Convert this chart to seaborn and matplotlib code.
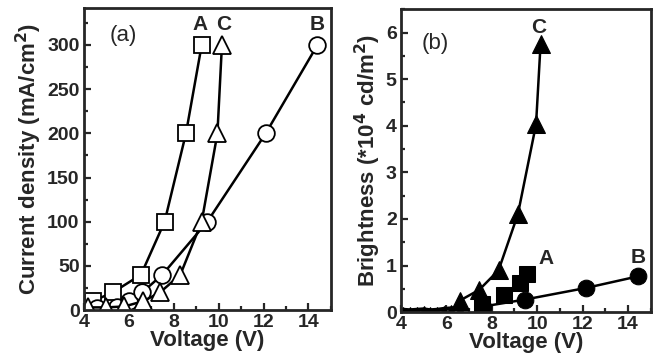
import numpy as np
import pandas as pd
import seaborn as sns
import matplotlib.pyplot as plt
from matplotlib.ticker import MultipleLocator

# panel (a): current density vs voltage
a_volt = [4.4, 5.3, 6.55, 7.6, 8.55, 9.25]
a_curr = [10, 20, 40, 100, 200, 300]
b_volt = [4.6, 5.5, 6.0, 6.6, 7.5, 9.5, 12.1, 14.4]
b_curr = [2, 3, 10, 20, 40, 100, 200, 300]
c_volt = [4.2, 5.0, 5.8, 6.65, 7.4, 8.3, 9.25, 9.95, 10.15]
c_curr = [3, 3, 4, 10, 20, 40, 100, 200, 300]

# panel (b): brightness (x1e4 cd/m2) vs voltage
a_bvolt = [7.55, 8.55, 9.25, 9.55]
a_bright = [0.18, 0.37, 0.62, 0.81]
b_bvolt = [7.6, 9.45, 12.15, 14.45]
b_bright = [0.12, 0.27, 0.52, 0.77]
c_bvolt = [6.6, 7.45, 8.3, 9.15, 9.95, 10.15]
c_bright = [0.25, 0.48, 0.9, 2.1, 4.03, 5.76]
# low-voltage baseline of C (small symbols)
base_volt = [4.1, 4.4, 4.7, 5.0, 5.3, 5.6, 5.9, 6.2, 6.6]
base_bright = [0.05, 0.04, 0.05, 0.06, 0.04, 0.05, 0.07, 0.08, 0.1]

sns.set_style('ticks')
plt.rcParams['font.family'] = ['Liberation Sans', 'DejaVu Sans']
plt.rcParams['font.weight'] = 'bold'
plt.rcParams['axes.labelweight'] = 'bold'

fig = plt.figure(figsize=(6.54, 3.58), dpi=100)
ax1 = fig.add_axes([0.128, 0.134, 0.378, 0.844])
ax2 = fig.add_axes([0.613, 0.128, 0.382, 0.846])

line_kw = dict(color='black', linewidth=1.8, sort=False, estimator=None)

# (a) open symbols
sns.lineplot(x=a_volt, y=a_curr, marker='s', markersize=11, markerfacecolor='white',
             markeredgecolor='black', markeredgewidth=1.3, ax=ax1, **line_kw)
sns.lineplot(x=b_volt, y=b_curr, marker='o', markersize=12, markerfacecolor='white',
             markeredgecolor='black', markeredgewidth=1.3, ax=ax1, **line_kw)
sns.lineplot(x=c_volt, y=c_curr, marker='^', markersize=13, markerfacecolor='white',
             markeredgecolor='black', markeredgewidth=1.3, ax=ax1, **line_kw)

# (b) filled symbols
sns.lineplot(x=a_bvolt, y=a_bright, marker='s', markersize=11, markerfacecolor='black',
             markeredgecolor='black', linestyle='none', ax=ax2, **line_kw)
sns.lineplot(x=b_bvolt, y=b_bright, marker='o', markersize=12, markerfacecolor='black',
             markeredgecolor='black', ax=ax2, **line_kw)
sns.lineplot(x=c_bvolt, y=c_bright, marker='^', markersize=13, markerfacecolor='black',
             markeredgecolor='black', ax=ax2, **line_kw)
sns.lineplot(x=base_volt, y=base_bright, marker='^', markersize=5, markerfacecolor='black',
             markeredgecolor='black', ax=ax2, color='black', linewidth=3, sort=False,
             estimator=None)

ax1.set_xlim(4, 15)
ax1.set_ylim(0, 342)
ax1.xaxis.set_major_locator(MultipleLocator(2))
ax1.xaxis.set_minor_locator(MultipleLocator(1))
ax1.yaxis.set_major_locator(MultipleLocator(50))
ax1.yaxis.set_minor_locator(MultipleLocator(25))
ax1.set_xlabel('Voltage (V)', fontsize=16, labelpad=-1)
ax1.set_ylabel('Current density (mA/cm$^\\mathbf{2}$)', fontsize=16, labelpad=2)
ax1.text(5.75, 311, '(a)', fontsize=16, fontweight='normal', va='center', ha='center')
ax1.text(9.17, 323, 'A', fontsize=15, va='center', ha='center')
ax1.text(10.24, 323, 'C', fontsize=15, va='center', ha='center')
ax1.text(14.4, 323, 'B', fontsize=15, va='center', ha='center')

ax2.set_xlim(4, 15)
ax2.set_ylim(0, 6.5)
ax2.xaxis.set_major_locator(MultipleLocator(2))
ax2.xaxis.set_minor_locator(MultipleLocator(1))
ax2.yaxis.set_major_locator(MultipleLocator(1))
ax2.yaxis.set_minor_locator(MultipleLocator(0.5))
ax2.set_xlabel('Voltage (V)', fontsize=16, labelpad=-1)
ax2.set_ylabel('Brightness (*10$^\\mathbf{4}$ cd/m$^\\mathbf{2}$)', fontsize=16, labelpad=2)
ax2.text(5.5, 5.76, '(b)', fontsize=16, fontweight='normal', va='center', ha='center')
ax2.text(10.07, 6.12, 'C', fontsize=15, va='center', ha='center')
ax2.text(10.4, 1.15, 'A', fontsize=15, va='center', ha='center')
ax2.text(14.44, 1.18, 'B', fontsize=15, va='center', ha='center')

for ax in (ax1, ax2):
    for s in ax.spines.values():
        s.set_visible(True)
        s.set_linewidth(2)
    ax.tick_params(which='both', direction='in', width=1.6, labelsize=14, pad=3)
    ax.tick_params(which='major', length=5)
    ax.tick_params(which='minor', length=3)

fig.savefig('out.png', dpi=100)
